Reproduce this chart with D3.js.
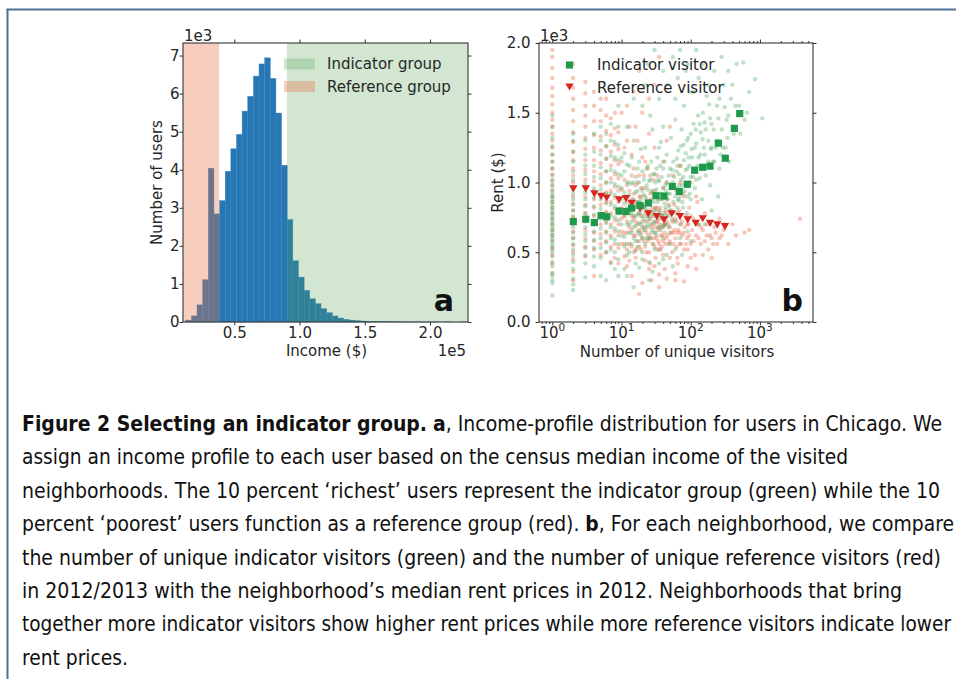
<!DOCTYPE html>
<html><head><meta charset="utf-8">
<script src="https://cdn.jsdelivr.net/npm/d3@7"></script>
<style>body{margin:0;background:#fff}svg text{font-family:"DejaVu Sans",sans-serif}</style>
</head><body><svg id="c" width="956" height="679"></svg>
<script>
// ---------------- DATA ----------------
// Panel a: income histogram (50 bins)
const histBinStart = 12800;      // income ($) of first bin edge
const histBinWidth = 4320;       // bin width ($)
const histCounts = [50,160,450,1110,4040,2840,3190,3960,4550,4930,5540,5930,6460,6780,6940,6400,5490,4120,2690,1610,
  1180,830,610,480,350,245,160,105,70,50,35,25,18,12,9,7,5,4,3,2,2,1,1,1,1,0,1,0,0,1];
const referenceBand = [10700, 38300];   // income range of reference group
const indicatorBand = [90300, 229100];  // income range of indicator group
const histXDomain = [10700, 229100];
const histYMax = 7330;
const histXTicks = [50000,100000,150000,200000];
const histYTicks = [0,1000,2000,3000,4000,5000,6000,7000];
const histLegend = ["Indicator group","Reference group"];

// Panel b: rent vs number of unique visitors
const indicatorColumns = [
 [1,[190,280,300,330,350,400,430,470,500,520,540,560,580,600,620,640,660,680,700,720,740,760,780,800,820,840,860,880,900,920,950,980,1010,1050,1100,1150,1200,1260,1320,1400,1480]],
 [2,[230,270,310,380,430,480,520,560,600,640,680,720,760,800,840,880,920,970,1020,1080,1150,1220,1300,1350]],
 [3,[320,420,480,530,580,630,680,730,780,830,880,930,990,1060,1120,1200,1300]],
 [4,[400,470,530,590,650,710,770,830,890,960,1040,1120,1220,1350]],
 [5,[330,460,530,600,670,740,810,880,950,1030,1110,1200,1300,1400]],
 [6,[300,500,570,640,710,780,850,920,1000,1080,1170,1260,1350]],
 [7,[420,520,600,680,760,840,920,1000,1090,1190,1300,1420]],
 [8,[380,500,590,670,750,830,910,990,1080,1180,1290]],
 [9,[330,450,560,650,730,810,890,970,1060,1160,1270,1400,1550]]
];
const referenceColumns = [
 [1,[350,420,480,530,580,620,660,700,740,780,820,860,900,940,980,1020,1060,1100,1150,1200,1250,1300,1350,1400,1450,1500,1560,1620,1680,1750,1820,1900,1950]],
 [2,[300,360,450,500,550,600,650,700,750,800,850,900,950,1000,1050,1100,1160,1220,1290,1360,1440,1520,1600,1680,1750,1850]],
 [3,[470,540,600,660,720,780,840,900,960,1020,1090,1160,1240,1320,1400,1480,1550,1640,1720]],
 [4,[330,520,580,640,700,760,820,880,940,1010,1080,1160,1250,1340,1440,1550,1650]],
 [5,[480,560,630,700,770,840,910,980,1060,1140,1230,1330,1440,1520,1600]],
 [6,[500,580,650,720,790,860,930,1000,1080,1170,1260,1370,1480,1600]],
 [7,[430,540,620,700,780,860,940,1030,1120,1220,1340,1460]],
 [8,[460,560,650,730,810,890,970,1060,1160,1270,1390,1500]],
 [9,[420,530,620,700,780,860,940,1030,1130,1240,1360]]
];
const indicatorCloud = [[10,620],[10,880],[10,1050],[11,540],[11,760],[11,930],[11,1210],[12,480],[12,700],[12,820],[12,1000],[13,640],[13,780],[13,910],[13,1120],[14,560],[14,720],[14,850],[14,990],[15,600],[15,760],[15,880],[15,1300],[16,510],[16,690],[16,820],[16,1040],[17,650],[17,770],[17,940],[18,580],[18,710],[18,860],[18,1150],[19,620],[19,800],[19,960],[20,450],[20,680],[20,840],[20,1080],[21,740],[21,910],[22,560],[22,820],[22,1250],[23,690],[23,980],[24,600],[24,760],[24,1120],[25,430],[25,870],[26,700],[26,1020],[27,640],[27,930],[28,780],[28,1380],[29,560],[29,860],[30,710],[30,1060],[31,820],[32,620],[32,950],[33,1180],[34,740],[34,880],[35,520],[35,1010],[36,800],[37,660],[37,1290],[38,920],[39,760],[40,1100],[40,600],[42,850],[43,980],[44,700],[45,1200],[46,880],[47,760],[48,1050],[50,920],[50,640],[52,1320],[53,800],[55,1000],[56,1150],[58,720],[60,1450],[60,900],[62,1080],[64,820],[66,1230],[68,980],[70,700],[72,1120],[74,1380],[76,860],[78,1040],[80,1550],[82,940],[85,1210],[88,780],[90,1100],[92,1320],[95,1000],[98,1650],[100,880],[105,1180],[110,1420],[115,960],[120,1280],[125,1120],[130,1750],[135,1030],[140,1360],[145,880],[150,1500],[160,1200],[165,1050],[170,1620],[180,1300],[190,980],[200,1420],[210,1150],[220,1800],[230,1250],[240,1550],[260,1100],[280,1380],[300,1700],[320,1250],[350,1480],[380,1600],[420,1350],[460,1850],[500,1550],[575,1860],[600,1450],[700,1650],[850,1740],[1080,1460],
 [12,330],[18,390],[25,300],[35,420],[45,480],[60,520],[15,250],[15,1600],[22,1700],[30,1950],[40,1800],[55,1900],[70,1950],[90,1850],[120,1950],
 [33,760],[36,1120],[41,690],[44,940],[49,830],[54,1090],[57,960],[63,1170],[67,870],[73,1020],[79,1270],[84,1090],[93,1180],[97,920],[103,1240],[108,1040],[118,1380],[128,1480],[138,1200],[148,1310],[158,1430],[175,1120],[185,1560],[195,1240],[215,1380],[250,1460],[270,1200],[310,1540],[340,1320],[400,1700],
 [10,700],[10,960],[10,1180],[11,610],[11,850],[11,1080],[12,560],[12,900],[12,1130],[13,500],[13,700],[13,1000],[14,640],[14,780],[14,1180],[15,680],[15,820],[15,1000],[16,580],[16,760],[16,930],[17,540],[17,860],[17,1100],[18,640],[18,780],[18,1000],[19,700],[19,880],[19,1240],[20,600],[20,760],[20,940],[21,660],[21,830],[21,1020],[22,720],[22,900],[23,600],[23,800],[23,1100],[24,680],[24,950],[25,740],[25,1010],[26,600],[26,860],[27,760],[27,1150],[28,660],[28,940],[29,720],[29,1060],[30,800],[30,900],[31,640],[31,1000],[32,760],[32,1100],[33,860],[34,680],[34,1020],[35,780],[35,1250],[36,920],[37,760],[38,1040],[38,680],[39,880],[40,780],[40,960],[42,700],[42,1150],[43,820],[45,760],[45,1000],[47,920],[48,680],[50,800],[50,1100],[52,960],[54,740],[56,860],[58,1040],[60,780],[62,960],[64,1120],[66,880],[68,1060],[70,900],[72,1260],[75,980],[78,820],[80,1160],[84,1000],[88,1300],[90,900],[95,1120],[100,1040],[100,1350],[110,1100],[115,1250],[120,1020],[130,1180],[135,1420],[145,1100],[155,1250],[165,1380],[180,1150],[190,1460],[200,1250],[220,1150],[240,1300],[260,1600],[290,1250],[330,1450],[360,1150],[440,1550],[520,1350],[650,1500],
 [20,500],[30,520],[40,450],[50,560],[70,600],[90,650],[130,700],[11,380],[16,420],[28,360],[55,400],[75,480],[100,580],[160,700],[200,800],[250,900],
 [12,1400],[20,1550],[26,1480],[35,1600],[45,1700],[65,1750],[85,1800],[110,1650],[150,1850],[180,1700],[280,1900],[350,1800],[24,1850],[40,1400],[60,1600]];
const referenceCloud = [[10,560],[10,820],[10,1150],[11,640],[11,900],[11,470],[12,720],[12,980],[12,1300],[13,560],[13,810],[14,660],[14,1050],[15,500],[15,740],[15,920],[16,620],[16,860],[16,1400],[17,700],[17,1000],[18,540],[18,780],[19,640],[19,900],[20,720],[20,1180],[21,580],[21,820],[22,660],[22,960],[23,500],[23,760],[24,860],[24,1100],[25,620],[26,740],[26,420],[27,880],[28,560],[28,700],[29,1020],[30,640],[30,800],[31,460],[32,720],[33,900],[34,580],[35,680],[36,820],[37,520],[38,740],[39,620],[40,960],[41,700],[42,380],[43,800],[44,600],[45,720],[46,880],[48,560],[50,680],[52,780],[54,500],[56,640],[58,840],[60,600],[62,720],[64,460],[66,660],[68,800],[70,560],[72,700],[75,620],[78,920],[80,520],[82,680],[85,760],[88,600],[90,400],[92,700],[95,820],[100,560],[105,660],[110,740],[115,480],[120,620],[125,860],[130,700],[140,560],[150,660],[160,780],[170,620],[180,520],[190,700],[200,600],[220,680],[240,560],[260,740],[280,620],[300,660],[350,560],[400,700],[600,640],[3800,740],
 [14,330],[20,280],[27,300],[35,250],[45,310],[60,350],[80,290],[120,380],[18,200],
 [12,1550],[15,1650],[20,1500],[25,1350],[30,1250],[40,1150],[55,1050],[70,1120],[100,1000],[18,1800],[30,1700],[50,1400],
 [10,650],[10,740],[10,950],[11,560],[11,760],[11,1020],[12,520],[12,640],[12,860],[13,680],[13,940],[13,440],[14,540],[14,760],[14,880],[15,620],[15,820],[15,1100],[16,520],[16,720],[16,980],[17,580],[17,840],[18,660],[18,900],[18,1050],[19,520],[19,760],[20,600],[20,820],[20,960],[21,680],[21,1050],[22,540],[22,780],[23,640],[23,880],[24,580],[24,720],[25,500],[25,800],[26,600],[26,920],[27,680],[28,820],[29,600],[29,760],[30,540],[30,940],[31,680],[32,600],[32,820],[33,520],[33,720],[34,660],[34,800],[35,560],[36,700],[37,620],[37,880],[38,540],[39,760],[40,580],[40,680],[42,640],[43,560],[44,780],[46,620],[47,700],[48,840],[50,580],[52,640],[54,720],[56,560],[58,660],[60,740],[62,540],[64,640],[66,780],[70,640],[72,560],[75,720],[80,640],[85,560],[90,700],[95,620],[100,760],[110,580],[120,700],[130,600],[140,680],[160,580],[170,700],[190,620],[210,560],[230,640],[260,600],[300,700],[450,620],[700,660],
 [16,460],[22,440],[30,400],[40,480],[50,460],[65,420],[100,460],[150,480],[25,380],[12,400],[60,300],[90,520],[200,460],[35,340],
 [11,1250],[14,1200],[17,1300],[22,1150],[26,1050],[33,1050],[45,1000],[60,950],[80,900],[13,1400],[10,1500],[25,1600],[45,1300],[35,1900],[70,1000],[120,900]];
const indicatorBinned = [[2.01,720],[3.04,737],[4.05,713],[5.06,763],[6.1,754],[9.2,795],[11.6,792],[14.0,817],[18.5,836],[24.4,853],[31.5,905],[41.1,903],[54.2,972],[68.4,936],[89.3,987],[114,1088],[149,1109],[190,1117],[251,1282],[316,1174],[427,1388],[511,1494]];
const referenceBinned = [[2.01,954],[3.04,954],[4.05,918],[5.06,900],[6.1,889],[9.2,876],[11.6,884],[14.0,850],[18.5,815],[24.4,776],[32.3,756],[41.1,732],[53.1,776],[70,756],[90.5,732],[118,708],[149,740],[190,708],[242,696],[313,684]];
const scatXDomain = [0.642, 5850];
const scatYDomain = [0, 2000];
const scatYTicks = [0,500,1000,1500,2000];
const scatXTicks = [1,10,100,1000];
const scatLegend = ["Indicator visitor","Reference visitor"];

const captionLines = [
 [["Figure 2 Selecting an indicator group.",true],[" ",false],["a",true],[", Income-profile distribution for users in Chicago. We",false]],
 [["assign an income profile to each user based on the census median income of the visited",false]],
 [["neighborhoods. The 10 percent \u2018richest\u2019 users represent the indicator group (green) while the 10",false]],
 [["percent \u2018poorest\u2019 users function as a reference group (red). ",false],["b",true],[", For each neighborhood, we compare",false]],
 [["the number of unique indicator visitors (green) and the number of unique reference visitors (red)",false]],
 [["in 2012/2013 with the neighborhood\u2019s median rent prices in 2012. Neighborhoods that bring",false]],
 [["together more indicator visitors show higher rent prices while more reference visitors indicate lower",false]],
 [["rent prices.",false]]
];
const captionLineEnds = [942,848,940,954,941,902,951,128];

// ---------------- DRAW ----------------
const svg = d3.select("#c");
const TXT = "#262626", SP = "#333", FS = "15px";

// frame
svg.append("line").attr("x1",7.5).attr("x2",7.5).attr("y1",9).attr("y2",679).attr("stroke","#4f6f94").attr("stroke-width",2);
svg.append("line").attr("x1",6.5).attr("x2",956).attr("y1",9.5).attr("y2",9.5).attr("stroke","#4f6f94").attr("stroke-width",2);

function frameAxes(g, L, R, T, B){
  g.append("rect").attr("x",L).attr("y",T).attr("width",R-L).attr("height",B-T)
   .attr("fill","none").attr("stroke",SP).attr("stroke-width",1.1);
}
function styleAxis(sel){
  sel.select(".domain").remove();
  sel.selectAll("line").attr("stroke",SP).attr("stroke-width",1);
  sel.selectAll("text").attr("fill",TXT).style("font-size",FS).style("font-family","DejaVu Sans, sans-serif");
}

// ---- Panel a ----
const aL=183, aR=468, aT=43, aB=322;
const ga = svg.append("g");
const xa = d3.scaleLinear().domain(histXDomain).range([aL,aR]);
const ya = d3.scaleLinear().domain([0,histYMax]).range([aB,aT]);
const bins = histCounts.map((c,i)=>({x0:histBinStart+i*histBinWidth, x1:histBinStart+(i+1)*histBinWidth, c}));
ga.selectAll("rect.bar").data(bins).join("rect").attr("class","bar")
  .attr("x",d=>xa(d.x0)).attr("width",d=>xa(d.x1)-xa(d.x0))
  .attr("y",d=>ya(d.c)).attr("height",d=>aB-ya(d.c))
  .attr("fill","#2777b4").attr("stroke","#3a86bd").attr("stroke-width",0.4);
const REDC="rgb(232,112,69)", REDA=0.35, GRNC="rgb(75,155,75)", GRNA=0.25;
ga.append("rect").attr("x",xa(referenceBand[0])).attr("width",xa(referenceBand[1])-xa(referenceBand[0]))
  .attr("y",aT).attr("height",aB-aT).attr("fill",REDC).attr("fill-opacity",REDA);
ga.append("rect").attr("x",xa(indicatorBand[0])).attr("width",xa(indicatorBand[1])-xa(indicatorBand[0]))
  .attr("y",aT).attr("height",aB-aT).attr("fill",GRNC).attr("fill-opacity",GRNA);

ga.append("g").attr("transform",`translate(0,${aB})`)
  .call(d3.axisBottom(xa).tickValues(histXTicks).tickFormat(d=>(d/1e5).toFixed(1)).tickSize(3.5).tickPadding(1.5)).call(styleAxis);
ga.append("g").attr("transform",`translate(0,${aT})`)
  .call(d3.axisTop(xa).tickValues(histXTicks).tickFormat("").tickSize(3.5)).call(styleAxis);
ga.append("g").attr("transform",`translate(${aL},0)`)
  .call(d3.axisLeft(ya).tickValues(histYTicks).tickFormat(d=>d/1000).tickSize(3.5).tickPadding(0)).call(styleAxis);
ga.append("g").attr("transform",`translate(${aR},0)`)
  .call(d3.axisRight(ya).tickValues(histYTicks).tickFormat("").tickSize(3.5)).call(styleAxis);
frameAxes(ga,aL,aR,aT,aB);

// legend a
[[GRNC,GRNA],[REDC,REDA]].forEach((c,i)=>{
  ga.append("rect").attr("x",284).attr("y",58.5+i*22.5).attr("width",31).attr("height",11)
    .attr("fill",c[0]).attr("fill-opacity",c[1]);
  ga.append("text").attr("x",327).attr("y",69+i*22.5).text(histLegend[i]).attr("fill",TXT).style("font-size",FS);
});
ga.append("text").attr("x",aL+1).attr("y",41).text("1e3").attr("fill",TXT).style("font-size",FS);
ga.append("text").attr("x",aR-2).attr("y",356).attr("text-anchor","end").text("1e5").attr("fill",TXT).style("font-size",FS);
ga.append("text").attr("x",(aL+aR)/2+1).attr("y",356).attr("text-anchor","middle").text("Income ($)").attr("fill",TXT).style("font-size",FS);
ga.append("text").attr("transform",`translate(162,${(aT+aB)/2}) rotate(-90)`).attr("text-anchor","middle").text("Number of users").attr("fill",TXT).style("font-size",FS);
ga.append("text").attr("x",454).attr("y",311).attr("text-anchor","end").text("a").attr("fill","#111").style("font-size","30px").style("font-weight","bold");

// ---- Panel b ----
const bL=539, bR=813, bT=43, bB=322;
const gb = svg.append("g");
const xb = d3.scaleLog().domain(scatXDomain).range([bL,bR]);
const yb = d3.scaleLinear().domain(scatYDomain).range([bB,bT]);
svg.append("defs").append("clipPath").attr("id","cb").append("rect").attr("x",bL).attr("y",bT).attr("width",bR-bL).attr("height",bB-bT);
const dots = gb.append("g").attr("clip-path","url(#cb)");
const flatten = cols => cols.flatMap(([x,ys])=>ys.map(y=>[x,y]));
const indPts = flatten(indicatorColumns).concat(indicatorCloud);
const refPts = flatten(referenceColumns).concat(referenceCloud);
const allPts = [];
const n = Math.max(indPts.length, refPts.length);
for(let i=0;i<n;i++){ if(i<refPts.length) allPts.push([refPts[i],"r"]); if(i<indPts.length) allPts.push([indPts[i],"g"]); }
dots.selectAll("circle").data(allPts).join("circle")
  .attr("cx",d=>xb(d[0][0])).attr("cy",d=>yb(d[0][1])).attr("r",2.2)
  .attr("fill",d=>d[1]==="g"?"#2e9a48":"#e8502e").attr("fill-opacity",d=>d[1]==="g"?0.3:0.32);

const triPath = "M-4.2,-3.6L4.2,-3.6L0,3.6Z";
const sqPath = "M-3.6,-3.6H3.6V3.6H-3.6Z";
gb.selectAll("path.tri").data(referenceBinned).join("path").attr("class","tri")
  .attr("d",triPath).attr("transform",d=>`translate(${xb(d[0])},${yb(d[1])})`).attr("fill","#d7261e");
gb.selectAll("path.sq").data(indicatorBinned).join("path").attr("class","sq")
  .attr("d",sqPath).attr("transform",d=>`translate(${xb(d[0])},${yb(d[1])})`).attr("fill","#1f9a4c");

// axes b
const minor = [];
for(let e=-1;e<=3;e++) for(let m=2;m<=9;m++){ const v=m*Math.pow(10,e); if(v>=scatXDomain[0]&&v<=scatXDomain[1]) minor.push(v); }
gb.append("g").attr("transform",`translate(0,${bB})`)
  .call(d3.axisBottom(xb).tickValues(scatXTicks).tickFormat("").tickSize(3.5)).call(styleAxis);
gb.append("g").attr("transform",`translate(0,${bB})`)
  .call(d3.axisBottom(xb).tickValues(minor).tickFormat("").tickSize(2)).call(styleAxis);
gb.append("g").attr("transform",`translate(0,${bT})`)
  .call(d3.axisTop(xb).tickValues(scatXTicks).tickFormat("").tickSize(3.5)).call(styleAxis);
gb.append("g").attr("transform",`translate(0,${bT})`)
  .call(d3.axisTop(xb).tickValues(minor).tickFormat("").tickSize(2)).call(styleAxis);
scatXTicks.forEach(v=>{
  const t = gb.append("text").attr("x",xb(v)).attr("y",337.5).attr("text-anchor","middle").attr("fill",TXT).style("font-size",FS);
  t.append("tspan").text("10");
  t.append("tspan").attr("dy",-6.5).style("font-size","10.5px").text(String(Math.round(Math.log10(v))));
});
gb.append("g").attr("transform",`translate(${bL},0)`)
  .call(d3.axisLeft(yb).tickValues(scatYTicks).tickFormat(d=>(d/1000).toFixed(1)).tickSize(3.5).tickPadding(5)).call(styleAxis);
gb.append("g").attr("transform",`translate(${bR},0)`)
  .call(d3.axisRight(yb).tickValues(scatYTicks).tickFormat("").tickSize(3.5)).call(styleAxis);
frameAxes(gb,bL,bR,bT,bB);

gb.append("path").attr("d",sqPath).attr("transform","translate(569.5,65)").attr("fill","#1f9a4c");
gb.append("path").attr("d",triPath).attr("transform","translate(569.5,87)").attr("fill","#d7261e");
scatLegend.forEach((s,i)=>gb.append("text").attr("x",597).attr("y",70+i*22.5).text(s).attr("fill",TXT).style("font-size",FS));
gb.append("text").attr("x",bL+1).attr("y",41).text("1e3").attr("fill",TXT).style("font-size",FS);
gb.append("text").attr("x",(bL+bR)/2+1).attr("y",357).attr("text-anchor","middle").text("Number of unique visitors").attr("fill",TXT).style("font-size",FS);
gb.append("text").attr("transform",`translate(503,${(bT+bB)/2}) rotate(-90)`).attr("text-anchor","middle").text("Rent ($)").attr("fill",TXT).style("font-size",FS);
gb.append("text").attr("x",803).attr("y",311).attr("text-anchor","end").text("b").attr("fill","#111").style("font-size","30px").style("font-weight","bold");

// ---- Caption ----
const capX = 22;
captionLines.forEach((segs,i)=>{
  const t = svg.append("text").attr("x",capX).attr("y",431+i*33.4)
    .attr("textLength",captionLineEnds[i]-capX).attr("lengthAdjust","spacingAndGlyphs")
    .attr("fill","#111").style("font-size","20.5px").style("font-family","'DejaVu Sans Condensed','DejaVu Sans',sans-serif").style("font-stretch","condensed");
  segs.forEach(([s,b])=>t.append("tspan").text(s).style("font-weight",b?"bold":"normal"));
});
</script></body></html>
